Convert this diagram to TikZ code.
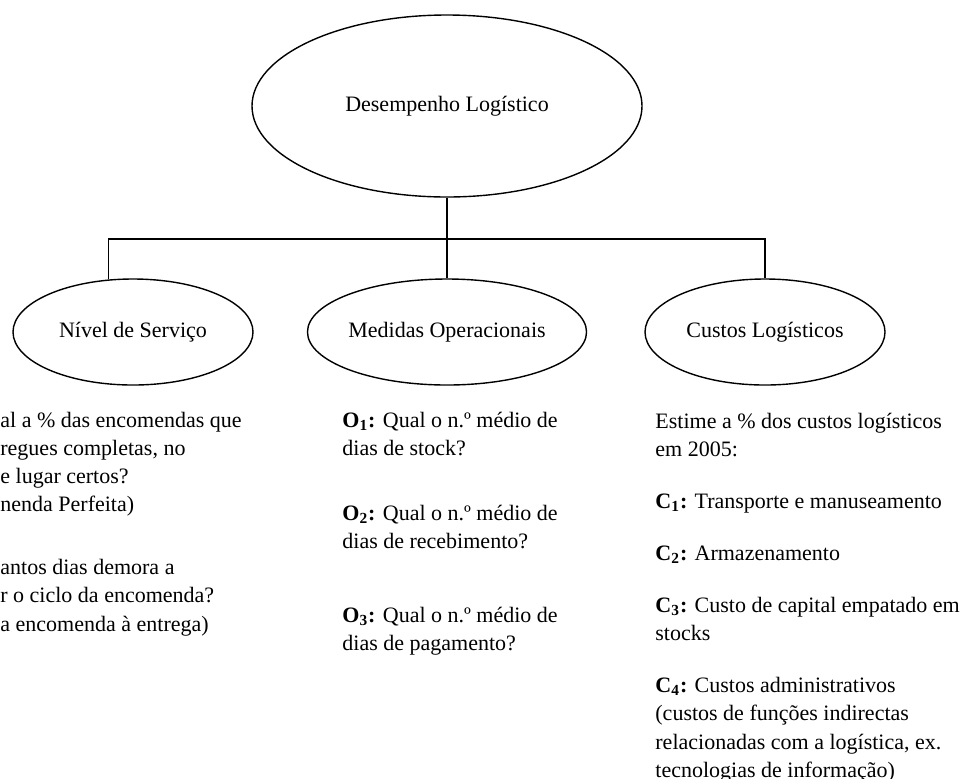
\documentclass[tikz,border=0pt]{standalone}
\usepackage{fontspec}
\setmainfont{Liberation Serif}
\usetikzlibrary{shapes.geometric}
\begin{document}
\begin{tikzpicture}[x=0.5pt,y=-0.5pt,
  bubble/.style={ellipse,draw,line width=0.7pt,inner sep=0pt,
    font=\fontsize{11}{13}\selectfont},
  bigbubble/.style={bubble,minimum width=195pt,minimum height=91pt},
  smallbubble/.style={bubble,minimum width=120pt,minimum height=53pt},
  wire/.style={line width=0.7pt},
  txt/.style={anchor=base west,inner sep=0pt,
    font=\fontsize{11}{13}\selectfont}]
\useasboundingbox (0,0) rectangle (961,778);

% hierarchy
\node[bigbubble] (top) at (447,106) {Desempenho Logístico};
\node[smallbubble] (sl) at (133,332) {Nível de Serviço};
\node[smallbubble] (mo) at (447,332) {Medidas Operacionais};
\node[smallbubble] (cl) at (765,332) {Custos Logísticos};

\coordinate (bus) at (447,239);
\draw[wire] (top.south) -- (bus);
\draw[wire] (sl.115) |- (bus);
\draw[wire] (bus) -- (mo.north);
\draw[wire] (bus) -| (cl.north);

% service level questions
\node[txt] (n1) at (0,427) {al a \% das encomendas que};
\node[txt] (n2) at (0,455) {regues completas, no};
\node[txt] (n3) at (0,483) {e lugar certos?};
\node[txt] (n4) at (0,511) {nenda Perfeita)};
\node[txt] (n5) at (0,574) {antos dias demora a};
\node[txt] (n6) at (0,602) {r o ciclo da encomenda?};
\node[txt] (n7) at (0,631) {a encomenda à entrega)};

% operational measures
\node[txt] (o1) at (342,427) {\textbf{O\textsubscript{1}:} Qual o n.º médio de};
\node[txt] (o1b) at (342,455) {dias de stock?};
\node[txt] (o2) at (342,520) {\textbf{O\textsubscript{2}:} Qual o n.º médio de};
\node[txt] (o2b) at (342,548) {dias de recebimento?};
\node[txt] (o3) at (342,622) {\textbf{O\textsubscript{3}:} Qual o n.º médio de};
\node[txt] (o3b) at (342,650) {dias de pagamento?};

% logistic costs
\node[txt] (c0) at (655,428) {Estime a \% dos custos logísticos};
\node[txt] (c0b) at (655,456) {em 2005:};
\node[txt] (c1) at (655,508) {\textbf{C\textsubscript{1}:} Transporte e manuseamento};
\node[txt] (c2) at (655,560) {\textbf{C\textsubscript{2}:} Armazenamento};
\node[txt] (c3) at (655,612) {\textbf{C\textsubscript{3}:} Custo de capital empatado em};
\node[txt] (c3b) at (655,640) {stocks};
\node[txt] (c4) at (655,692) {\textbf{C\textsubscript{4}:} Custos administrativos};
\node[txt] (c4b) at (655,720) {(custos de funções indirectas};
\node[txt] (c4c) at (655,749) {relacionadas com a logística, ex.};
\node[txt] (c4d) at (655,777) {tecnologias de informação)};
\end{tikzpicture}
\end{document}
